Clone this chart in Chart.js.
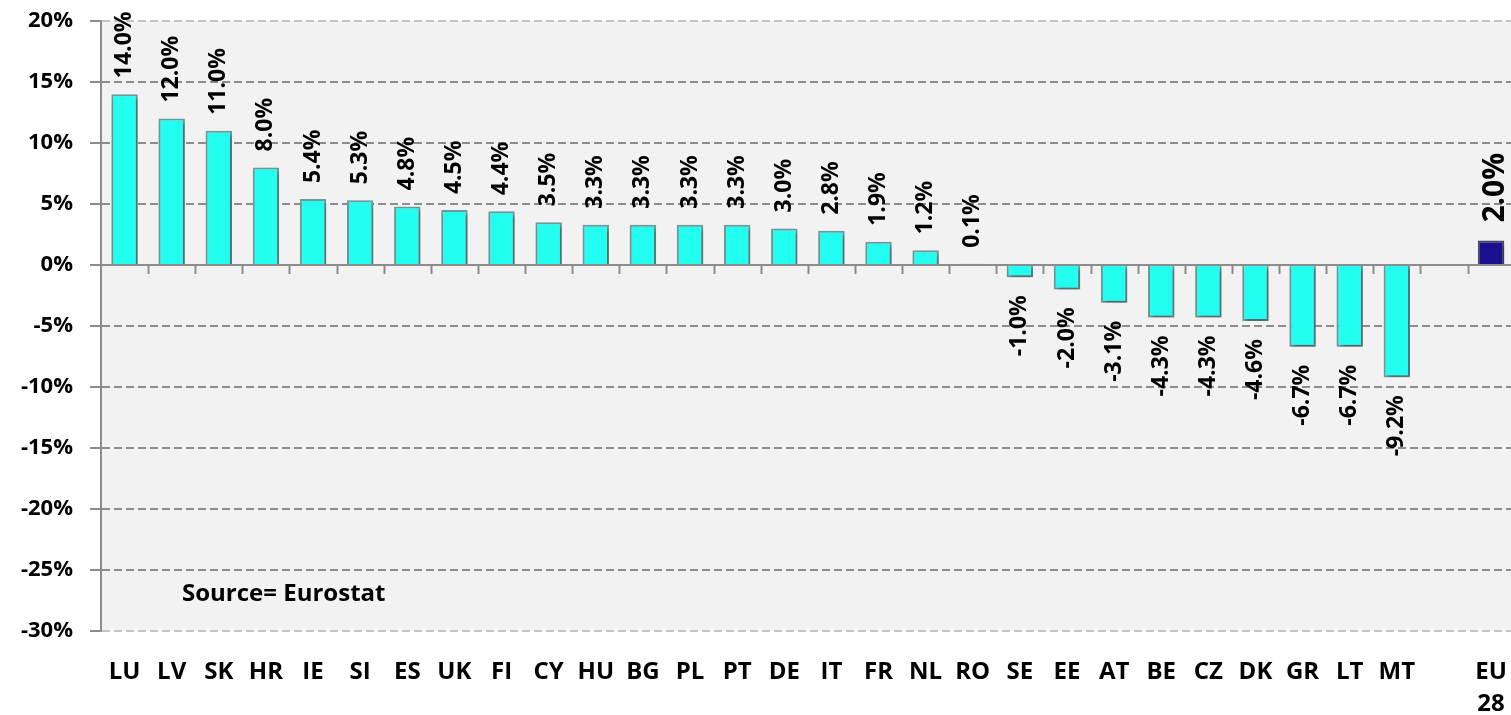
<!DOCTYPE html>
<html>
<head>
<meta charset="utf-8">
<script src="https://cdn.jsdelivr.net/npm/chart.js@4"></script>
<style>
  body { margin: 0; background: #fff; overflow: hidden; }
  #wrap { width: 1525px; height: 715px; }
</style>
</head>
<body>
<div id="wrap"><canvas id="mychart"></canvas></div>
<script>
const countries = ['LU', 'LV', 'SK', 'HR', 'IE', 'SI', 'ES', 'UK', 'FI', 'CY', 'HU', 'BG', 'PL', 'PT',
    'DE', 'IT', 'FR', 'NL', 'RO', 'SE', 'EE', 'AT', 'BE', 'CZ', 'DK', 'GR', 'LT', 'MT', '', ['EU', '28']];
const growth = [14.0, 12.0, 11.0, 8.0, 5.4, 5.3, 4.8, 4.5, 4.4, 3.5, 3.3, 3.3, 3.3, 3.3,
    3.0, 2.8, 1.9, 1.2, 0.1, -1.0, -2.0, -3.1, -4.3, -4.3, -4.6, -6.7, -6.7, -9.2, null, 2.0];
const yTicks = [-30, -25, -20, -15, -10, -5, 0, 5, 10, 15, 20];

const FONT = '"Open Sans", sans-serif';
const lastIdx = growth.length - 1;

const ctx = document.getElementById('mychart');

// background of the plot, zero line, little ticks and value labels
const extras = {
    id: 'extras',
    beforeDraw(chart) {
        const a = chart.chartArea;
        const c = chart.ctx;
        c.save();
        c.fillStyle = '#f2f2f2';
        c.fillRect(a.left, a.top, a.right - a.left, a.bottom - a.top);
        c.restore();
    },
    beforeDatasetsDraw(chart) {
        const c = chart.ctx;
        const x = chart.scales.x;
        const y = chart.scales.y;
        const y0 = y.getPixelForValue(0);
        c.save();
        c.strokeStyle = '#8c8c8c';
        c.lineWidth = 2;
        c.beginPath();
        c.moveTo(x.left, y0);
        c.lineTo(x.right, y0);
        const w = (x.right - x.left) / countries.length;
        for (let i = 1; i < countries.length; i++) {
            const px = Math.round(x.left + i * w) + 0.5;
            c.moveTo(px, y0);
            c.lineTo(px, y0 + 9);
        }
        c.stroke();
        c.restore();
        c.save();
        c.shadowColor = 'rgba(0,0,0,0.35)';
        c.shadowBlur = 4;
        c.shadowOffsetX = 2;
        c.shadowOffsetY = 3;
    },
    afterDatasetsDraw(chart) {
        const c = chart.ctx;
        c.restore();
        const x = chart.scales.x;
        const y = chart.scales.y;
        c.save();
        c.fillStyle = '#000';
        growth.forEach((v, i) => {
            if (v === null) return;
            const px = x.getPixelForValue(i);
            const py = y.getPixelForValue(v);
            c.save();
            if (i === lastIdx) {
                c.font = 'bold 30px ' + FONT;
                c.translate(px + 4, py - 18);
            } else if (v >= 0) {
                c.font = 'bold 23px ' + FONT;
                c.translate(px, py - 16);
            } else {
                c.font = 'bold 23px ' + FONT;
                c.translate(px, py + 18);
            }
            c.rotate(-Math.PI / 2);
            c.textAlign = v >= 0 ? 'left' : 'right';
            c.textBaseline = 'middle';
            c.fillText(v.toFixed(1) + '%', 0, 0);
            c.restore();
        });
        c.font = 'bold 24px ' + FONT;
        c.textAlign = 'left';
        c.textBaseline = 'middle';
        c.fillText('Source= Eurostat', 182, 594);
        c.restore();
    }
};

function charts() {
    new Chart(ctx, {
        type: 'bar',
        data: {
            labels: countries,
            datasets: [{
                data: growth,
                backgroundColor: growth.map((v, i) => i === lastIdx ? '#1c0f8f' : '#22fff1'),
                borderColor: growth.map((v, i) => i === lastIdx ? '#4a4a66' : '#6f9a9a'),
                borderWidth: 2,
                barPercentage: 0.56,
                categoryPercentage: 1
            }]
        },
        options: {
            responsive: true,
            maintainAspectRatio: false,
            animation: false,
            layout: { padding: { top: 21, right: 8, bottom: 0, left: 0 } },
            plugins: {
                legend: { display: false },
                tooltip: { enabled: false }
            },
            scales: {
                x: {
                    afterFit(scale) { scale.height = 84; },
                    grid: { display: false },
                    border: { display: false },
                    ticks: {
                        autoSkip: false,
                        maxRotation: 0,
                        padding: 18,
                        color: '#000',
                        font: { family: FONT, size: 24, weight: 'bold', lineHeight: 1.3 }
                    }
                },
                y: {
                    min: -30,
                    max: 20,
                    afterFit(scale) {
                        scale.width = 101;
                        scale.paddingTop = 0;
                        scale.paddingBottom = 0;
                    },
                    afterBuildTicks(scale) { scale.ticks = yTicks.map(v => ({ value: v })); },
                    border: { display: true, color: '#8c8c8c', width: 2, dash: [8, 4] },
                    grid: {
                        color: (c) => (c.tick && (c.tick.value === 20 || c.tick.value === -30)) ? '#c4c4c4' : '#8c8c8c',
                        lineWidth: 2,
                        tickLength: 11,
                        tickColor: '#8c8c8c',
                        tickBorderDash: [0, 0]
                    },
                    ticks: {
                        padding: 17,
                        color: '#000',
                        font: { family: FONT, size: 22, weight: 'bold' },
                        callback: (v) => v + '%'
                    }
                }
            }
        },
        plugins: [extras]
    });
}

charts()
</script>
</body>
</html>
